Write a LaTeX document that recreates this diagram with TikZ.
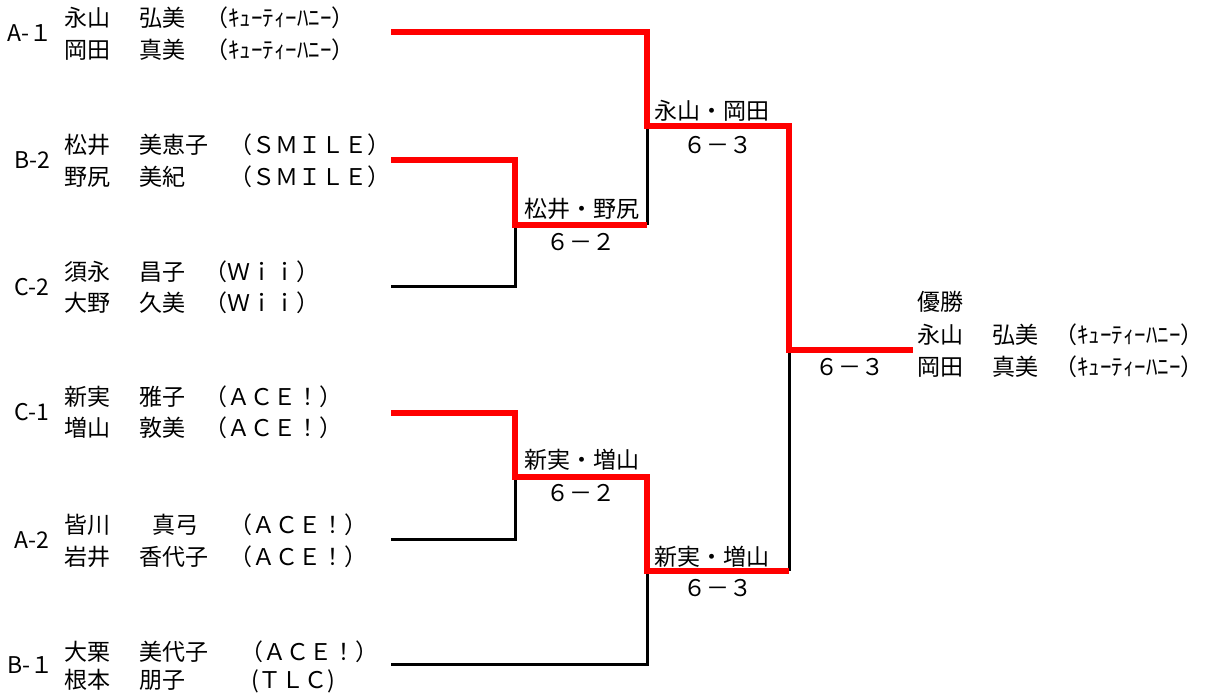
\documentclass[tikz,border=0pt]{standalone}
\usepackage{fontspec}
\setmainfont{Noto Sans CJK JP}
\usetikzlibrary{positioning}

\tikzset{
  txt/.style={inner sep=0pt, anchor=west, text height=20pt, text depth=2.4pt,
    font=\fontsize{23}{28}\selectfont},
  res/.style={txt, anchor=center},
  lose/.style={line width=3pt, black},
  win/.style={line width=6pt, red},
}

\begin{document}
\begin{tikzpicture}[x=1pt,y=-1pt]
\useasboundingbox (0,0) rectangle (1206,698);
% line ends of the pairs
\coordinate (e1) at (391,32);
\coordinate (e2) at (391,160);
\coordinate (e3) at (391,286);
\coordinate (e4) at (391,413);
\coordinate (e5) at (391,539);
\coordinate (e6) at (391,664);
% match points
\coordinate (m23) at (515,225);
\coordinate (m45) at (515,477);
\coordinate (s1) at (647,126);
\coordinate (s2) at (647,571);
\coordinate (fin) at (789,350);
\coordinate (champ) at (913,350);

% losers
\draw[lose] (e3) -| (m23);
\draw[lose] (s1 |- m23) -- (s1);
\draw[lose] (e5) -| (m45);
\draw[lose] (e6) -| (s2);
\draw[lose] (fin |- s2) -- (fin);
% winners
\draw[win] (e1) -| (s1) -- (fin |- s1) |- (champ);
\draw[win] (e2) -| (m23) -- (s1 |- m23);
\draw[win] (e4) -| (m45) -- (s2 |- m45) -- (s2) -- (fin |- s2);

% seeds
\node[txt] (sa1) at (7,33) {A-１};
\node[txt] (sb2) at (14,160) {B-2};
\node[txt] (sc2) at (14,287) {C-2};
\node[txt] (sc1) at (14,412) {C-1};
\node[txt] (sa2) at (14,540) {A-2};
\node[txt] (sb1) at (7,665) {B-１};

% players
\node[txt] (p1a) at (64,18) {\makebox[75pt][l]{永山}弘美};
\node[txt] (t1a) at (205,18) {（ｷｭｰﾃｨｰﾊﾆｰ）};
\node[txt] (p1b) at (64,50) {\makebox[75pt][l]{岡田}真美};
\node[txt] (t1b) at (205,50) {（ｷｭｰﾃｨｰﾊﾆｰ）};

\node[txt] (p2a) at (64,145) {\makebox[75pt][l]{松井}美恵子};
\node[txt] (t2a) at (229,145) {（ＳＭＩＬＥ）};
\node[txt] (p2b) at (64,177) {\makebox[75pt][l]{野尻}美紀};
\node[txt] (t2b) at (229,177) {（ＳＭＩＬＥ）};

\node[txt] (p3a) at (64,272) {\makebox[75pt][l]{須永}昌子};
\node[txt] (t3a) at (204,272) {（Ｗｉｉ）};
\node[txt] (p3b) at (64,303) {\makebox[75pt][l]{大野}久美};
\node[txt] (t3b) at (204,303) {（Ｗｉｉ）};

\node[txt] (p4a) at (64,397) {\makebox[75pt][l]{新実}雅子};
\node[txt] (t4a) at (204,397) {（ＡＣＥ！）};
\node[txt] (p4b) at (64,428) {\makebox[75pt][l]{増山}敦美};
\node[txt] (t4b) at (204,428) {（ＡＣＥ！）};

\node[txt] (p5a) at (64,525) {\makebox[88pt][l]{皆川}真弓};
\node[txt] (t5a) at (229,525) {（ＡＣＥ！）};
\node[txt] (p5b) at (64,557) {\makebox[75pt][l]{岩井}香代子};
\node[txt] (t5b) at (229,557) {（ＡＣＥ！）};

\node[txt] (p6a) at (64,652) {\makebox[75pt][l]{大栗}美代子};
\node[txt] (t6a) at (240,652) {（ＡＣＥ！）};
\node[txt] (p6b) at (64,680) {\makebox[75pt][l]{根本}朋子};
\node[txt] (t6b) at (251,680) {(ＴＬＣ)};

% results
\node[res] (w23) at (582,209) {松井・野尻};
\node[res] (r23) at (581,242) {６－２};
\node[res] (w45) at (582,460) {新実・増山};
\node[res] (r45) at (581,493) {６－２};
\node[res] (ws1) at (712,111) {永山・岡田};
\node[res] (rs1) at (718,145) {６－３};
\node[res] (ws2) at (712,557) {新実・増山};
\node[res] (rs2) at (718,588) {６－３};
\node[res] (rfin) at (850,367) {６－３};

% champion
\node[txt] (title) at (917,302) {優勝};
\node[txt] (c1) at (917,335) {\makebox[75pt][l]{永山}弘美};
\node[txt] (ct1) at (1054,335) {（ｷｭｰﾃｨｰﾊﾆｰ）};
\node[txt] (c2) at (917,367) {\makebox[75pt][l]{岡田}真美};
\node[txt] (ct2) at (1054,367) {（ｷｭｰﾃｨｰﾊﾆｰ）};
\end{tikzpicture}
\end{document}
